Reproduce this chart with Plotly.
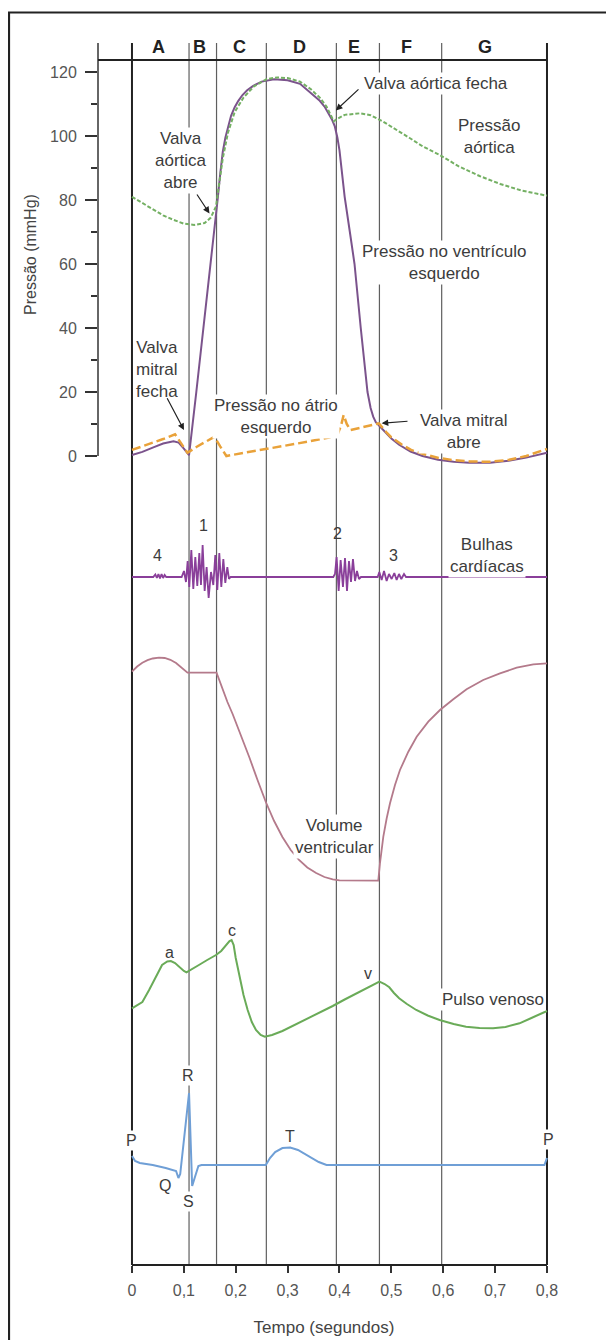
import plotly.graph_objects as go

# ---------------- data ----------------
# phase boundaries (s)
phase_bounds = [0.0, 0.11, 0.163, 0.259, 0.394, 0.477, 0.597, 0.8]
phase_letters = ["A", "B", "C", "D", "E", "F", "G"]
phase_letter_t = [0.0513, 0.1305, 0.2074, 0.3229, 0.428, 0.530, 0.6814]

# pressures (mmHg)
lv_t = [0, 0.02, 0.04, 0.06, 0.08, 0.09, 0.10, 0.11, 0.124, 0.138, 0.151, 0.165, 0.170, 0.175,
        0.180, 0.185, 0.191, 0.198, 0.205, 0.213, 0.222, 0.233, 0.25, 0.274, 0.30, 0.324, 0.345,
        0.362, 0.372, 0.38, 0.386, 0.391, 0.396, 0.40, 0.405, 0.41, 0.42, 0.429, 0.441, 0.454,
        0.460, 0.465, 0.470, 0.476, 0.481, 0.490, 0.50, 0.515, 0.537, 0.56, 0.59, 0.62, 0.65,
        0.69, 0.726, 0.76, 0.78, 0.80]
lv_p = [0.3, 1.3, 2.6, 3.9, 4.6, 4.2, 2.3, 0.3, 20, 40, 60, 80, 88, 95,
        99.5, 103, 106.3, 109, 111, 112.8, 114.3, 115.6, 117, 117.7, 117.4, 116.3, 113.5,
        111, 109, 106.8, 105, 103, 99.5, 95.5, 88.5, 81, 70, 60, 40, 20,
        15, 12.3, 10.6, 9.6, 8.8, 7, 5.5, 3.5, 1.4, 0, -1.2, -1.8, -2.1,
        -2.1, -1.5, -0.5, 0.2, 1.0]

ao_t = [0, 0.02, 0.04, 0.06, 0.08, 0.10, 0.12, 0.14, 0.152, 0.162, 0.168, 0.175, 0.185, 0.198,
        0.215, 0.235, 0.26, 0.28, 0.30, 0.324, 0.345, 0.362, 0.375, 0.383, 0.389, 0.395, 0.41,
        0.44, 0.46, 0.484, 0.51, 0.536, 0.56, 0.594, 0.63, 0.67, 0.71, 0.75, 0.795, 0.80]
ao_p = [81, 79, 77, 75.2, 73.8, 72.6, 72.2, 72.8, 74.5, 78, 85, 93, 101, 107.5,
        112, 115.5, 117.8, 118.3, 118.1, 117, 114.6, 112, 109.2, 106.8, 104.6, 105.3, 106.6,
        107.1, 106.5, 104.5, 102, 99.3, 96.8, 94, 90.5, 87.5, 85, 83, 81.5, 81.4]

la_t = [0, 0.03, 0.06, 0.083, 0.095, 0.107, 0.125, 0.145, 0.159, 0.17, 0.182, 0.22, 0.26, 0.30,
        0.34, 0.38, 0.396, 0.403, 0.408, 0.414, 0.421, 0.44, 0.46, 0.476, 0.49, 0.50, 0.52,
        0.538, 0.56, 0.591, 0.62, 0.651, 0.69, 0.727, 0.76, 0.78, 0.80]
la_p = [1.9, 3.5, 5.3, 6.8, 4.0, 1.0, 2.9, 4.8, 6.0, 3.0, 0.0, 1.1, 2.2, 3.3,
        4.5, 5.8, 6.6, 9.5, 12.8, 10.0, 8.1, 8.8, 9.6, 10.2, 7.5, 5.8, 3.6,
        1.9, 0.7, -0.6, -1.3, -1.7, -1.8, -1.2, 0.0, 1.0, 2.2]

# heart sounds (relative amplitude)
snd_t = [0.0, 0.041, 0.045, 0.048, 0.051, 0.054, 0.057, 0.060, 0.063, 0.066,
         0.0957, 0.1002, 0.1041, 0.1073, 0.1105, 0.1144, 0.1182, 0.1221, 0.1259, 0.1298,
         0.1330, 0.1362, 0.1401, 0.1439, 0.1478, 0.1523, 0.1568, 0.1606, 0.1645, 0.1683,
         0.1722, 0.1761, 0.1799, 0.1838, 0.1870, 0.1902,
         0.3881, 0.3913, 0.3945, 0.3984, 0.4022, 0.4067, 0.4106, 0.4145, 0.4183, 0.4222,
         0.4260, 0.4299, 0.4337, 0.4376, 0.4414,
         0.4736, 0.4768, 0.4813, 0.4858, 0.4909, 0.4954, 0.5006, 0.5057, 0.5102, 0.5147,
         0.5192, 0.5244, 0.5282, 0.8]
snd_a = [0, 0, 2.5, -1, 3, -1.5, 3, -1, 2, 0,
         0, 6, -5, 16, -10, 27, -12, 20, -9, 24,
         -8, 32, -14, 10, -21, 5, -8, 22, -13, 24,
         -10, 18, -6, 10, -2, 0,
         0, 3, 20, -14, 17, -10, 19, -14, 16, -5,
         18, -4, 6, -2, 0,
         0, 5, -3, 6, -4, 3, -2, 4, -3, 3,
         -2, 3, 0, 0]

# ventricular volume (relative units)
vol_t = [0, 0.01, 0.02, 0.03, 0.04, 0.052, 0.063, 0.074, 0.085, 0.095, 0.102, 0.107, 0.163,
         0.168, 0.176, 0.184, 0.194, 0.21, 0.226, 0.242, 0.258, 0.274, 0.29, 0.306, 0.322,
         0.338, 0.355, 0.371, 0.387, 0.40, 0.4748, 0.478, 0.4813, 0.4845, 0.491, 0.4974, 0.507,
         0.5166, 0.5327, 0.5488, 0.5712, 0.5937, 0.6194, 0.645, 0.677, 0.7094, 0.7416, 0.7736,
         0.80]
vol_v = [218.3, 223.5, 227.2, 229.8, 231.5, 232.3, 232, 230.2, 227, 222.5, 219, 217.3, 217.3,
         210, 198, 188, 176, 155, 133, 110, 88, 69, 53, 40, 30,
         22.5, 17, 13, 10.7, 9.7, 9.3, 26.7, 40, 53.3, 71.7, 86.7, 105,
         120, 138.3, 153.3, 168.3, 180, 190.7, 200.7, 210, 216.7, 222.3, 225.7, 226.7]

# venous pulse (relative units)
ven_t = [0, 0.02, 0.033, 0.046, 0.058, 0.068, 0.075, 0.083, 0.091, 0.10, 0.105, 0.115, 0.129,
         0.145, 0.162, 0.172, 0.181, 0.188, 0.192, 0.196, 0.20, 0.207, 0.215, 0.223, 0.231,
         0.239, 0.248, 0.256, 0.27, 0.29, 0.31, 0.335, 0.36, 0.387, 0.41, 0.438, 0.46, 0.472,
         0.477, 0.487, 0.496, 0.505, 0.515, 0.53, 0.548, 0.57, 0.593, 0.62, 0.644, 0.67, 0.696,
         0.72, 0.747, 0.77, 0.80]
ven_v = [41.7, 48, 60, 73, 85, 88.5, 89, 87, 83.3, 79, 77.7, 81, 85,
         90, 95, 99, 105, 109, 110, 105, 92, 73.3, 55, 40, 28,
         20, 15, 13.3, 15, 19, 24, 30.5, 37, 44, 50.5, 58, 64, 67.5,
         68.3, 66, 62.7, 57, 51.7, 46, 40, 34.5, 30, 26, 23.3, 22, 21.7,
         23, 26.7, 32, 39]

# ECG (relative units)
ecg_t = [0, 0.006, 0.015, 0.04, 0.065, 0.085, 0.0895, 0.093, 0.110, 0.116, 0.122, 0.128, 0.134,
         0.258, 0.266, 0.276, 0.29, 0.305, 0.32, 0.34, 0.36, 0.375, 0.795, 0.80]
ecg_v = [59, 54, 52, 50, 47, 44, 37, 41, 122, 29, 39, 49, 50,
         50, 57, 63, 67, 67.5, 65, 59, 53, 50, 50, 57]

x_ticks = [0, 0.1, 0.2, 0.3, 0.4, 0.5, 0.6, 0.7, 0.8]
x_ticktext = ["0", "0,1", "0,2", "0,3", "0,4", "0,5", "0,6", "0,7", "0,8"]
p_ticks = [0, 20, 40, 60, 80, 100, 120]
p_minor = [10, 30, 50, 70, 90, 110]

# ---------------- geometry helpers ----------------
W, H = 614, 1340
OFF = 8                      # page body margin
SL, ST, SB = 98, 60, 1265    # plot-area edges in screen pixels
PW = 452
ML, MT = SL - OFF, ST - OFF
MR = W - ML - PW
MB = H - (SB - OFF)
PH = SB - ST
X0, X1 = -0.0655, 0.8058


def py(px):
    """screen pixel row -> paper y"""
    return (SB - px) / PH


def pxx(px):
    """screen pixel column -> paper x"""
    return (px - SL) / PW


FONT = "Liberation Sans, Arial, sans-serif"
TXT = "#3c3c3c"

fig = go.Figure()

fig.add_trace(go.Scatter(x=lv_t, y=lv_p, mode="lines", line=dict(color="#7b538c", width=2),
                         yaxis="y", hoverinfo="skip", showlegend=False))
fig.add_trace(go.Scatter(x=ao_t, y=ao_p, mode="lines",
                         line=dict(color="#74b063", width=2, dash="4px,2px"),
                         yaxis="y", hoverinfo="skip", showlegend=False))
fig.add_trace(go.Scatter(x=la_t, y=la_p, mode="lines",
                         line=dict(color="#e9a23a", width=2.5, dash="9px,4px"),
                         yaxis="y", hoverinfo="skip", showlegend=False))
fig.add_trace(go.Scatter(x=snd_t, y=snd_a, mode="lines", line=dict(color="#8a3f9a", width=1.8),
                         yaxis="y2", hoverinfo="skip", showlegend=False))
fig.add_trace(go.Scatter(x=vol_t, y=vol_v, mode="lines", line=dict(color="#b47a8b", width=1.8),
                         yaxis="y3", hoverinfo="skip", showlegend=False))
fig.add_trace(go.Scatter(x=ven_t, y=ven_v, mode="lines", line=dict(color="#6aab58", width=2),
                         yaxis="y4", hoverinfo="skip", showlegend=False))
fig.add_trace(go.Scatter(x=ecg_t, y=ecg_v, mode="lines", line=dict(color="#6f9fd6", width=2),
                         yaxis="y5", hoverinfo="skip", showlegend=False))

shapes = []
# outer frame (cropped at right/bottom)
shapes.append(dict(type="rect", xref="paper", yref="paper",
                   x0=(1.0 - ML) / PW, x1=1.4, y0=py(12.5), y1=-0.2,
                   line=dict(color="#222", width=2.2), fillcolor="rgba(0,0,0,0)", layer="below"))
# pressure axis line
shapes.append(dict(type="line", xref="paper", yref="paper", x0=0, x1=0,
                   y0=py(456), y1=py(43), line=dict(color="#333", width=1.5)))
# top line
shapes.append(dict(type="line", xref="x", yref="paper", x0=X0, x1=0.8, y0=1, y1=1,
                   line=dict(color="#222", width=2.2)))
# bottom line
shapes.append(dict(type="line", xref="x", yref="paper", x0=0, x1=0.8, y0=0, y1=0,
                   line=dict(color="#222", width=2.2)))
for i, t in enumerate(phase_bounds):
    edge = i == 0 or i == len(phase_bounds) - 1
    shapes.append(dict(type="line", xref="x", yref="paper", x0=t, x1=t, y0=0, y1=py(43),
                       line=dict(color="#222" if edge else "#5f5f5f", width=2 if edge else 1.2),
                       layer="below"))

ann = []
for L, t in zip(phase_letters, phase_letter_t):
    ann.append(dict(x=t, y=py(47), xref="x", yref="paper", yanchor="middle", xanchor="center",
                    text="<b>%s</b>" % L, showarrow=False,
                    font=dict(family=FONT, size=18, color="#222")))


def txt(x, y, yref, text, bg=True, size=17):
    d = dict(x=x, y=y, xref="x", yref=yref, text=text, showarrow=False, align="center",
             xanchor="center", yanchor="middle",
             font=dict(family=FONT, size=size, color=TXT))
    if bg:
        d["bgcolor"] = "white"
    ann.append(d)


def arrow(tx, ty, ax, ay):
    ann.append(dict(x=tx, y=ty, ax=ax, ay=ay, xref="x", yref="y", axref="x", ayref="y", text="",
                    showarrow=True, arrowhead=2, arrowsize=1.1, arrowwidth=1.2, arrowcolor="#222",
                    standoff=0))


txt(0.5853, 116.5, "y", "Valva aórtica fecha")
txt(0.689, 99.8, "y", "Pressão<br>aórtica")
txt(0.095, 92.2, "y", "Valva<br>aórtica<br>abre")
txt(0.602, 60.5, "y", "Pressão no ventrículo<br>esquerdo")
txt(0.0474, 26.9, "y", "Valva<br>mitral<br>fecha")
txt(0.2776, 12.2, "y", "Pressão no átrio<br>esquerdo")
txt(0.64, 7.75, "y", "Valva mitral<br>abre")
arrow(0.393, 108, 0.4395, 115)
arrow(0.1494, 75.8, 0.1234, 82.2)
arrow(0.1002, 8.1, 0.0663, 18.5)
arrow(0.4813, 10.2, 0.534, 10.9)

txt(0.050, 22, "y2", "4", bg=False, size=16)
txt(0.137, 52, "y2", "1", bg=False, size=16)
txt(0.396, 44, "y2", "2", bg=False, size=16)
txt(0.505, 22, "y2", "3", bg=False, size=16)
txt(0.684, 22, "y2", "Bulhas<br>cardíacas")

txt(0.391, 54, "y3", "Volume<br>ventricular")

txt(0.073, 98, "y4", "a", bg=False, size=16)
txt(0.193, 120, "y4", "c", bg=False, size=16)
txt(0.4555, 77, "y4", "v", bg=False, size=16)
txt(0.6965, 50.7, "y4", "Pulso venoso")

txt(0.1085, 140, "y5", "R", size=16)
txt(0.0636, 30, "y5", "Q", bg=False, size=16)
txt(0.1085, 13.3, "y5", "S", size=16)
txt(0.3046, 78.3, "y5", "T", bg=False, size=16)
txt(0.0, 75, "y5", "P", size=16)
txt(0.8025, 76, "y5", "P", size=16)

# pressure axis title
ann.append(dict(x=pxx(31), y=py(255), xref="paper", yref="paper", text="Pressão (mmHg)",
                xanchor="center", yanchor="middle",
                textangle=-90, showarrow=False, font=dict(family=FONT, size=16, color="#444")))

hidden = dict(visible=False, anchor="x", fixedrange=True)

fig.update_layout(
    width=W, height=H, margin=dict(l=ML, r=MR, t=MT, b=MB),
    paper_bgcolor="white", plot_bgcolor="white",
    font=dict(family=FONT, color=TXT),
    showlegend=False,
    xaxis=dict(range=[X0, X1], domain=[0, 1], anchor="free", position=0,
               showline=False, showgrid=False, zeroline=False,
               ticks="outside", ticklen=7, tickwidth=1.5, tickcolor="#333",
               tickvals=x_ticks, ticktext=x_ticktext, ticklabelstandoff=4,
               tickfont=dict(family=FONT, size=16, color="#555"),
               title=dict(text="Tempo (segundos)", font=dict(family=FONT, size=17, color="#444"),
                          standoff=22)),
    yaxis=dict(domain=[py(480), 1], range=[(456 - 480) / 3.2, (456 - 60) / 3.2], anchor="x",
               showline=False, showgrid=False, zeroline=False,
               ticks="outside", ticklen=12, tickwidth=1.5, tickcolor="#333",
               tickvals=p_ticks, tickfont=dict(family=FONT, size=16, color="#555"),
               ticklabelstandoff=5,
               minor=dict(tickvals=p_minor, ticks="outside", ticklen=6, tickwidth=1.5,
                          tickcolor="#333", showgrid=False)),
    yaxis2=dict(domain=[py(612), py(515)], range=[-35, 62], **hidden),
    yaxis3=dict(domain=[py(890), py(645)], range=[0, 245], **hidden),
    yaxis4=dict(domain=[py(1050), py(920)], range=[0, 130], **hidden),
    yaxis5=dict(domain=[py(1215), py(1065)], range=[0, 150], **hidden),
    shapes=shapes,
    annotations=ann,
)

fig.write_html("out.html")
